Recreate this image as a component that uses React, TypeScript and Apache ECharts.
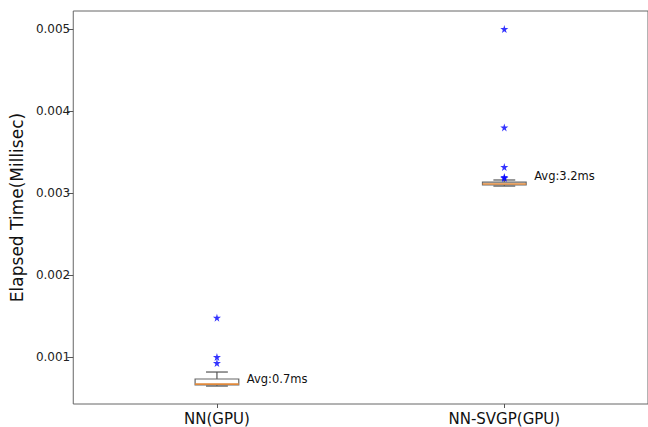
import React, { useEffect, useRef } from "react";
import * as echarts from "echarts";

const categories = ["NN(GPU)", "NN-SVGP(GPU)"];
const whiskerLow = [0.000646, 0.003085];
const q1 = [0.000659, 0.003098];
const median = [0.00067, 0.00311];
const q3 = [0.000732, 0.003134];
const whiskerHigh = [0.000817, 0.003159];
const outliersNN = [0.00148, 0.001, 0.000927];
const outliersSVGP = [0.005, 0.0038, 0.003317, 0.003195, 0.003183];
const avgLabels = ["Avg:0.7ms", "Avg:3.2ms"];
const avgLabelY = [0.00073, 0.003207];
const yTicks = [0.001, 0.002, 0.003, 0.004, 0.005];

const STAR =
  "path://M50,0 L61,35 L98,35 L68,57 L79,91 L50,70 L21,91 L32,57 L2,35 L39,35 Z";

export default function App() {
  const ref = useRef<HTMLDivElement>(null);
  useEffect(() => {
    if (!ref.current) return;
    const chart = echarts.init(ref.current, null, { renderer: "svg" });
    const boxData = categories.map((_, i) => [
      i,
      whiskerLow[i],
      q1[i],
      median[i],
      q3[i],
      whiskerHigh[i],
      avgLabelY[i],
    ]);
    const outlierData: number[][] = [];
    outliersNN.forEach((v) => outlierData.push([0, v]));
    outliersSVGP.forEach((v) => outlierData.push([1, v]));
    const font = "DejaVu Sans";
    chart.setOption({
      animation: false,
      backgroundColor: "#ffffff",
      grid: {
        left: 72,
        top: 11,
        width: 582,
        height: 393,
        show: true,
        borderColor: "#666",
        borderWidth: 1,
        backgroundColor: "transparent",
      },
      xAxis: {
        type: "category",
        data: categories,
        boundaryGap: true,
        axisLine: { show: false },
        axisTick: {
          show: true,
          alignWithLabel: true,
          length: 4,
          lineStyle: { color: "#555" },
        },
        axisLabel: {
          fontFamily: font,
          fontSize: 15,
          color: "#111",
          margin: 7,
        },
        splitLine: { show: false },
      },
      yAxis: {
        type: "value",
        min: 0.000427,
        max: 0.00522,
        name: "Elapsed Time(Millisec)",
        nameLocation: "middle",
        nameGap: 46,
        nameTextStyle: { fontFamily: font, fontSize: 17, color: "#111" },
        axisLine: { show: false },
        axisTick: {
          show: true,
          length: 6,
          customValues: yTicks,
          lineStyle: { color: "#555" },
        },
        axisLabel: {
          customValues: yTicks,
          fontFamily: font,
          fontSize: 12,
          color: "#222",
          margin: 3,
          formatter: (v: number) => v.toFixed(3),
        },
        splitLine: { show: false },
      },
      series: [
        {
          type: "custom",
          data: boxData,
          encode: { x: 0, y: [1, 2, 3, 4, 5] },
          renderItem: (params: any, api: any) => {
            const idx = api.value(0);
            const band = api.size([1, 0])[0];
            const half = band * 0.076;
            const capHalf = half * 0.5;
            const pLow = api.coord([idx, api.value(1)]);
            const pQ1 = api.coord([idx, api.value(2)]);
            const pMed = api.coord([idx, api.value(3)]);
            const pQ3 = api.coord([idx, api.value(4)]);
            const pHigh = api.coord([idx, api.value(5)]);
            const pLab = api.coord([idx, api.value(6)]);
            const cx = pQ1[0];
            const stroke = { stroke: "#555", lineWidth: 1.2, fill: "none" };
            return {
              type: "group",
              children: [
                {
                  type: "line",
                  shape: { x1: cx, y1: pQ3[1], x2: cx, y2: pHigh[1] },
                  style: stroke,
                },
                {
                  type: "line",
                  shape: { x1: cx, y1: pQ1[1], x2: cx, y2: pLow[1] },
                  style: stroke,
                },
                {
                  type: "line",
                  shape: { x1: cx - capHalf, y1: pHigh[1], x2: cx + capHalf, y2: pHigh[1] },
                  style: stroke,
                },
                {
                  type: "line",
                  shape: { x1: cx - capHalf, y1: pLow[1], x2: cx + capHalf, y2: pLow[1] },
                  style: stroke,
                },
                {
                  type: "rect",
                  shape: {
                    x: cx - half,
                    y: pQ3[1],
                    width: half * 2,
                    height: Math.max(pQ1[1] - pQ3[1], 1),
                  },
                  style: { stroke: "#666", lineWidth: 1.2, fill: "#ffffff" },
                },
                {
                  type: "line",
                  shape: { x1: cx - half, y1: pMed[1], x2: cx + half, y2: pMed[1] },
                  style: { stroke: "#e0883a", lineWidth: 1.6 },
                },
                {
                  type: "text",
                  style: {
                    text: avgLabels[idx],
                    x: cx + half + 8,
                    y: pLab[1],
                    verticalAlign: "middle",
                    align: "left",
                    fontFamily: font,
                    fontSize: 11.5,
                    fill: "#111",
                  },
                },
              ],
            };
          },
          z: 2,
        },
        {
          type: "scatter",
          data: outlierData,
          symbol: STAR,
          symbolSize: 8,
          itemStyle: { color: "#0000ff" },
          z: 3,
        },
      ],
    });
    return () => chart.dispose();
  }, []);
  return (
    <div
      ref={ref}
      style={{ position: "fixed", left: 0, top: 0, width: 648, height: 427 }}
    />
  );
}
